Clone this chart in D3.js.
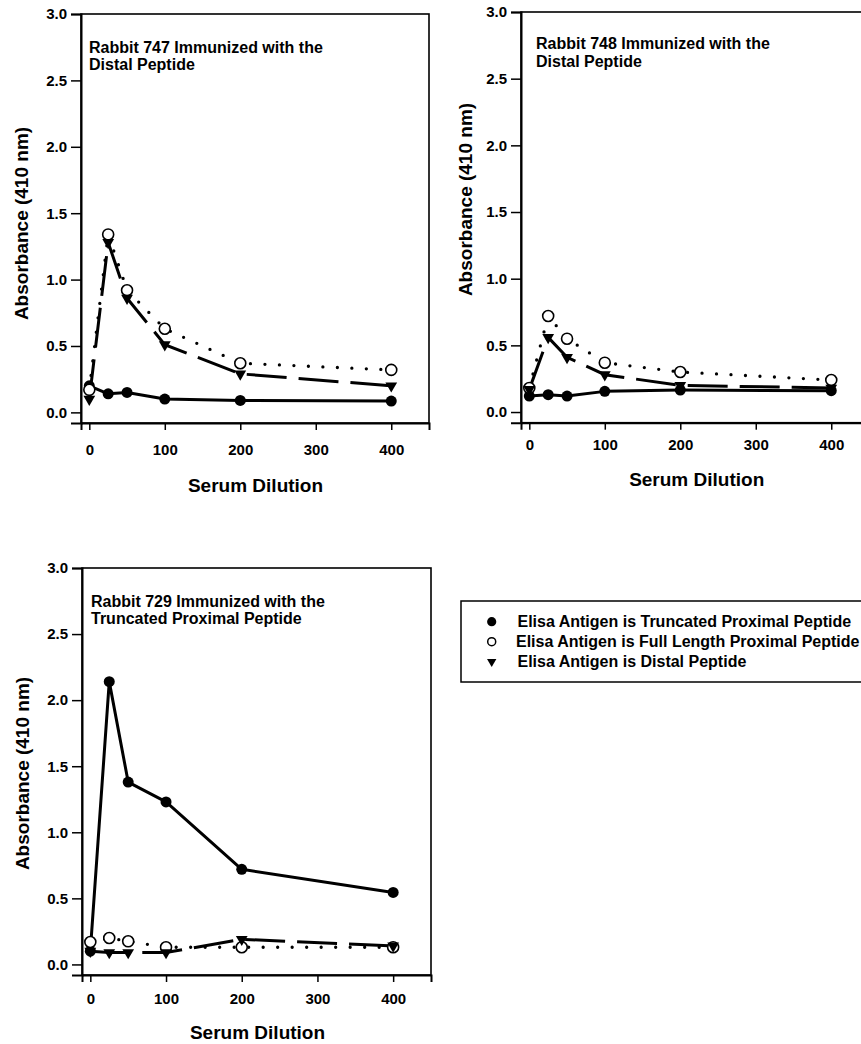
<!DOCTYPE html>
<html><head><meta charset="utf-8">
<script src="https://cdn.jsdelivr.net/npm/d3@7"></script>
<style>
body{margin:0;background:#fff}
svg{display:block;font-family:"Liberation Sans",Arial,Helvetica,sans-serif;font-weight:bold}
</style>
</head><body><svg id="c" width="861" height="1044"></svg>
<script>
// ---------- data ----------
const dilutions = [0, 25, 50, 100, 200, 400];
const xTicks = [0, 100, 200, 300, 400];
const yTicks = [0, 0.5, 1.0, 1.5, 2.0, 2.5, 3.0];
const seriesNames = [
  "Elisa Antigen is Truncated Proximal Peptide",
  "Elisa Antigen is Full Length Proximal Peptide",
  "Elisa Antigen is Distal Peptide"
];
const r747Truncated = [0.20, 0.14, 0.15, 0.10, 0.09, 0.085];
const r747Full      = [0.17, 1.34, 0.92, 0.63, 0.37, 0.32];
const r747Distal    = [0.10, 1.28, 0.86, 0.51, 0.29, 0.20];
const r748Truncated = [0.12, 0.13, 0.12, 0.155, 0.165, 0.16];
const r748Full      = [0.18, 0.72, 0.55, 0.37, 0.30, 0.24];
const r748Distal    = [0.17, 0.56, 0.41, 0.28, 0.20, 0.18];
const r729Truncated = [0.10, 2.14, 1.38, 1.23, 0.72, 0.545];
const r729Full      = [0.17, 0.20, 0.175, 0.13, 0.13, 0.13];
const r729Distal    = [0.10, 0.09, 0.09, 0.09, 0.19, 0.14];
const panelTitles = [
  ["Rabbit 747 Immunized with the", "Distal Peptide"],
  ["Rabbit 748 Immunized with the", "Distal Peptide"],
  ["Rabbit 729 Immunized with the", "Truncated Proximal Peptide"]
];
const xLabel = "Serum Dilution";
const yLabel = "Absorbance (410 nm)";
const xDomain = [-11, 450];
const yDomain = [-0.08, 3.0];

// ---------- layout ----------
const layout = [
  {left:81, right:429, top:14, bottom:423, titleX:89, titleY:53, ylX:28, ylY:223.5, xlX:255.5, xlY:491.7, xtY:455},
  {left:521, right:869, top:12, bottom:422.7, titleX:536, titleY:49.3, ylX:472, ylY:199.5, xlX:696.7, xlY:486, xtY:450},
  {left:82, right:431, top:568, bottom:975, titleX:91, titleY:606.7, ylX:29, ylY:773.5, xlX:257.5, xlY:1039.3, xtY:1004}
];
const panelSeries = [
  [r747Truncated, r747Full, r747Distal],
  [r748Truncated, r748Full, r748Distal],
  [r729Truncated, r729Full, r729Distal]
];

const svg = d3.select("#c");
svg.append("rect").attr("width",861).attr("height",1044).attr("fill","#fff");

const triDown = d3.symbol().type(d3.symbolTriangle).size(60)();
const triDownLegend = d3.symbol().type(d3.symbolTriangle).size(38)();

layout.forEach((L, i) => {
  const g = svg.append("g");
  const x = d3.scaleLinear().domain(xDomain).range([L.left, L.right]);
  const y = d3.scaleLinear().domain(yDomain).range([L.bottom, L.top]);

  // frame
  g.append("rect").attr("x",L.left).attr("y",L.top)
    .attr("width",L.right-L.left).attr("height",L.bottom-L.top)
    .attr("fill","none").attr("stroke","#000").attr("stroke-width",1.6);

  // y axis
  const ya = g.append("g").attr("transform",`translate(${L.left},0)`)
    .call(d3.axisLeft(y).tickValues(yTicks).tickFormat(d3.format(".1f")).tickSize(10).tickPadding(4))
    .attr("font-family",null).attr("font-size",null);
  ya.select(".domain").attr("stroke-width",2);
  ya.selectAll(".tick line").attr("stroke-width",1.5);
  ya.selectAll(".tick text").attr("font-size",15).attr("font-weight","bold").attr("fill","#000");

  // x axis
  const xa = g.append("g").attr("transform",`translate(0,${L.bottom})`)
    .call(d3.axisBottom(x).tickValues(xTicks).tickFormat(d3.format("d")).tickSize(7).tickPadding(4))
    .attr("font-family",null).attr("font-size",null);
  xa.select(".domain").attr("stroke-width",2);
  xa.selectAll(".tick line").attr("stroke-width",1.5);
  xa.selectAll(".tick text").attr("font-size",15).attr("font-weight","bold").attr("fill","#000")
    .attr("y", null).attr("dy", null).attr("transform", `translate(0,${L.xtY - L.bottom})`);

  // axis labels
  g.append("text").attr("transform",`translate(${L.ylX},${L.ylY}) rotate(-90)`)
    .attr("text-anchor","middle").attr("font-size",19).text(yLabel);
  g.append("text").attr("x",L.xlX).attr("y",L.xlY)
    .attr("text-anchor","middle").attr("font-size",19).text(xLabel);

  // title
  panelTitles[i].forEach((t, k) => {
    g.append("text").attr("x",L.titleX).attr("y",L.titleY + k*17.4)
      .attr("font-size",16).text(t);
  });

  const [trunc, full, distal] = panelSeries[i];
  const line = d3.line().x((d,j) => x(dilutions[j])).y(d => y(d));

  g.append("path").datum(trunc).attr("d",line).attr("fill","none")
    .attr("stroke","#000").attr("stroke-width",3).attr("stroke-linejoin","round");
  g.append("path").datum(full).attr("d",line).attr("fill","none")
    .attr("stroke","#000").attr("stroke-width",3.3).attr("stroke-linecap","round")
    .attr("stroke-dasharray","0,14.5");
  g.append("path").datum(distal).attr("d",line).attr("fill","none")
    .attr("stroke","#000").attr("stroke-width",3).attr("stroke-dasharray","40,12");

  g.selectAll(".fc").data(trunc).join("circle")
    .attr("cx",(d,j)=>x(dilutions[j])).attr("cy",d=>y(d)).attr("r",5.5).attr("fill","#000");
  g.selectAll(".oc").data(full).join("circle")
    .attr("cx",(d,j)=>x(dilutions[j])).attr("cy",d=>y(d)).attr("r",5.5)
    .attr("fill","#fff").attr("stroke","#000").attr("stroke-width",1.6);
  g.selectAll(".tr").data(distal).join("path")
    .attr("d",triDown).attr("fill","#000")
    .attr("transform",(d,j)=>`translate(${x(dilutions[j])},${y(d)}) rotate(180)`);
});

// legend
const lg = svg.append("g");
lg.append("rect").attr("x",461).attr("y",601).attr("width",420).attr("height",81)
  .attr("fill","#fff").attr("stroke","#000").attr("stroke-width",1.5);
const rowsY = [621.7, 641.7, 661.7];
const symX = 491.7;
lg.append("circle").attr("cx",symX).attr("cy",rowsY[0]).attr("r",4.6).attr("fill","#000");
lg.append("circle").attr("cx",symX).attr("cy",rowsY[1]).attr("r",4).attr("fill","#fff")
  .attr("stroke","#000").attr("stroke-width",1.5);
lg.append("path").attr("d",triDownLegend).attr("fill","#000")
  .attr("transform",`translate(${symX},${rowsY[2]}) rotate(180)`);
seriesNames.forEach((n,k) => {
  lg.append("text").attr("x", k===1 ? 516 : 517.5).attr("y", rowsY[k] + 5.6)
    .attr("font-size",16).text(n);
});
</script>
</body></html>
